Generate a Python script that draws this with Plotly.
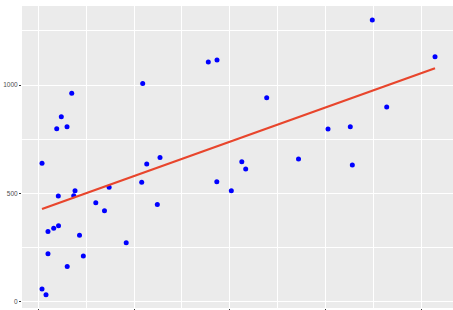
import plotly.graph_objects as go

# Scatter data
x_vals = [0.97, 0.97, 2.01, 2.53, 2.53, 4.02, 5.28, 5.22, 7.55, 9.25,
          9.59, 10.76, 11.76, 15.02, 17.29, 18.5, 22.96, 27.01, 28.32, 31.09,
          31.79, 8.73, 6.01, 4.81, 7.5, 27.27, 44.41, 46.68, 59.66, 46.63,
          50.42, 53.16, 54.18, 67.97, 87.25, 103.63, 91.01, 75.68, 81.5, 82.03]
y_vals = [639, 59, 32, 324, 221, 339, 351, 488, 163, 489,
          512, 307, 211, 457, 420, 529, 272, 551, 636, 449,
          666, 962, 854, 799, 808, 1007, 1107, 1116, 942, 554,
          512, 646, 613, 659, 1301, 1131, 899, 797, 808, 631]

# Linear trend line values (endpoints)
trend_x = [0.97, 103.63]
trend_y = [428, 1078]

y_ticks = [0, 500, 1000]
x_ticks = [0, 25, 50, 75, 100]

fig = go.Figure()
fig.add_trace(go.Scatter(
    x=x_vals, y=y_vals, mode="markers",
    marker=dict(color="#0000FF", size=5, line=dict(width=0)),
    showlegend=False, hoverinfo="x+y"))
fig.add_trace(go.Scatter(
    x=trend_x, y=trend_y, mode="lines",
    line=dict(color="#E8452C", width=2.3),
    showlegend=False))

fig.update_layout(
    width=453, height=310,
    margin=dict(l=22, r=0, t=6, b=2, autoexpand=False),
    paper_bgcolor="white",
    plot_bgcolor="#EBEBEB",
    font=dict(family="Liberation Sans, Arial, sans-serif", size=6.5, color="#4D4D4D"),
)
fig.update_xaxes(
    range=[-4.26, 108.33], automargin=False,
    tickvals=x_ticks, showticklabels=False,
    ticks="outside", ticklen=3, tickcolor="#333333", tickwidth=1,
    showgrid=True, gridcolor="white", gridwidth=1.1,
    minor=dict(showgrid=True, gridcolor="white", gridwidth=0.5, dtick=12.5, tick0=0),
    zeroline=False, showline=False,
)
fig.update_yaxes(
    range=[-29.1, 1365.3], automargin=False,
    tickvals=y_ticks, ticktext=[str(v) for v in y_ticks],
    ticks="outside", ticklen=2, tickcolor="#333333", tickwidth=1,
    showgrid=True, gridcolor="white", gridwidth=1.1,
    minor=dict(showgrid=True, gridcolor="white", gridwidth=0.5, dtick=250, tick0=0),
    zeroline=False, showline=False,
)

fig.write_html(
    "out.html",
    config={"displayModeBar": False},
    post_script="document.body.style.margin='0';document.body.style.overflow='hidden';",
)
